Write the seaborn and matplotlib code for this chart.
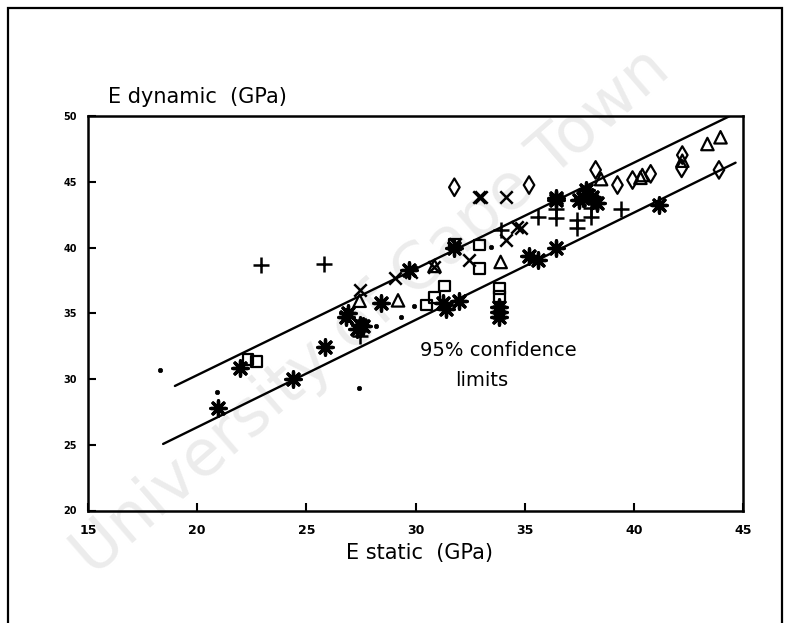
import matplotlib
matplotlib.use("Agg")
import matplotlib.pyplot as plt
import seaborn as sns
import pandas as pd
from matplotlib.patches import Rectangle

sns.set_theme(style="white")
plt.rcParams['font.family'] = ['DejaVu Sans']
plt.rcParams['text.color'] = 'black'

# ---- data (E static, E dynamic in GPa) ----
star_x = [20.96, 21.95, 24.39, 25.84, 26.83, 26.9, 27.44, 27.6, 27.3, 28.43, 29.72, 31.25, 31.4, 32.0,
          31.78, 33.84, 33.84, 33.84, 35.2, 35.6, 36.43, 36.43, 36.43, 37.65, 37.8, 38.1, 38.3, 37.5,
          41.15]
star_y = [27.77, 30.81, 29.98, 32.4, 34.74, 35.0, 34.1, 34.0, 33.8, 35.8, 38.29, 35.76, 35.3, 35.9,
          40.0, 35.5, 34.74, 35.1, 39.35, 39.05, 39.94, 43.74, 43.6, 43.74, 44.37, 43.86, 43.4, 43.6,
          43.23]
plus_x = [22.94, 25.8, 27.44, 33.9, 35.6, 36.43, 36.43, 37.4, 37.4, 38.03, 38.03, 39.4]
plus_y = [38.65, 38.72, 33.3, 41.3, 42.34, 42.9, 42.25, 42.1, 41.5, 42.98, 42.34, 42.95]
cross_x = [27.44, 29.04, 29.8, 30.87, 32.45, 32.92, 34.14, 34.14, 34.67, 34.83, 33.0, 31.8]
cross_y = [36.75, 37.66, 38.16, 38.54, 39.05, 43.86, 43.86, 40.57, 41.58, 41.46, 43.86, 40.3]
tri_x = [27.44, 29.2, 30.87, 33.9, 38.5, 40.3, 40.39, 42.22, 43.37, 43.97]
tri_y = [35.95, 35.98, 38.6, 38.9, 45.2, 45.3, 45.51, 46.6, 47.87, 48.38]
dia_x = [31.78, 35.2, 38.25, 39.25, 39.94, 40.77, 42.19, 42.22, 43.9]
dia_y = [44.58, 44.75, 45.9, 44.75, 45.13, 45.6, 46.02, 47.03, 45.9]
sq_x = [22.33, 22.71, 30.5, 30.87, 31.32, 32.92, 32.92, 33.84, 33.84, 31.78]
sq_y = [31.5, 31.32, 35.63, 36.2, 37.07, 40.19, 38.42, 36.9, 36.26, 40.2]
dot_x = [18.32, 20.91, 27.4, 28.2, 29.34, 29.95, 33.46]
dot_y = [30.68, 29.0, 29.3, 34.03, 34.74, 35.52, 40.06]

# 95% confidence limit lines (end points)
upper_x = [18.98, 44.4]
upper_y = [29.47, 50.0]
lower_x = [18.44, 44.66]
lower_y = [25.06, 46.45]

x_ticks = [15, 20, 25, 30, 35, 40, 45]
y_ticks = [20, 25, 30, 35, 40, 45, 50]

# ---- figure ----
fig = plt.figure(figsize=(7.89, 6.23), dpi=100)
fig.patch.set_facecolor('white')
ax = fig.add_axes([88/789, 1-510.5/623, (743-88)/789, (510.5-116)/623])
ax.patch.set_alpha(0)
ax.set_zorder(2)

# faint scan watermark (behind the plot)
fig.text(0.47, 0.50, "University of Cape Town", fontsize=46, color='#ececec',
         rotation=41, ha='center', va='center', zorder=-5, family='DejaVu Sans')

# outer frame
fig.patches.append(Rectangle((8/789, -0.02), (782-8)/789, 1.02-8/623,
                             transform=fig.transFigure, fill=False, ec='black', lw=1.6))

lw = 1.7
sns.lineplot(x=upper_x, y=upper_y, ax=ax, color='black', lw=lw, zorder=2)
sns.lineplot(x=lower_x, y=lower_y, ax=ax, color='black', lw=lw, zorder=2)

def scat(xs, ys, marker, size, filled=False, mlw=1.6):
    df = pd.DataFrame({'x': xs, 'y': ys})
    if filled:
        sns.scatterplot(data=df, x='x', y='y', ax=ax, marker=marker, s=size,
                        color='black', edgecolor='black', linewidth=mlw, zorder=3)
    else:
        sns.scatterplot(data=df, x='x', y='y', ax=ax, marker=marker, s=size,
                        facecolor='none', edgecolor='black', linewidth=mlw, zorder=3)

scat(star_x, star_y, (8, 2, 0), 120, filled=True, mlw=2.4)
scat(plus_x, plus_y, '+', 120, filled=True, mlw=1.8)
scat(cross_x, cross_y, 'x', 80, filled=True, mlw=1.8)
scat(tri_x, tri_y, '^', 80, mlw=1.6)
scat(dia_x, dia_y, 'd', 80, mlw=1.6)
scat(sq_x, sq_y, 's', 60, mlw=1.6)
scat(dot_x, dot_y, 'o', 10, filled=True, mlw=0.5)

ax.set_xlim(15, 45)
ax.set_ylim(20, 50)
ax.set_xticks(x_ticks)
ax.set_yticks(y_ticks)
ax.set_xticklabels([str(t) for t in x_ticks], fontsize=9, fontweight='bold')
ax.set_yticklabels([str(t) for t in y_ticks], fontsize=7, fontweight='bold')
ax.tick_params(axis='both', direction='in', length=6, width=1.5, color='black',
               labelcolor='black', bottom=True, left=True, top=False, right=False)
ax.tick_params(axis='x', pad=10)
ax.tick_params(axis='y', pad=8)
for sp in ax.spines.values():
    sp.set_visible(True)
    sp.set_color('black')
    sp.set_linewidth(1.8)
ax.set_xlabel('')
ax.set_ylabel('')

fig.text(108/789, 1-97/623, "E dynamic  (GPa)", fontsize=15, color='black',
         ha='left', va='center')
fig.text(420/789, 1-553/623, "E static  (GPa)", fontsize=15, color='black',
         ha='center', va='center')
ax.text(30.2, 32.2, "95% confidence", fontsize=14, color='black', ha='left', va='center')
ax.text(31.8, 29.9, "limits", fontsize=14, color='black', ha='left', va='center')

fig.savefig("out.png", dpi=100)
